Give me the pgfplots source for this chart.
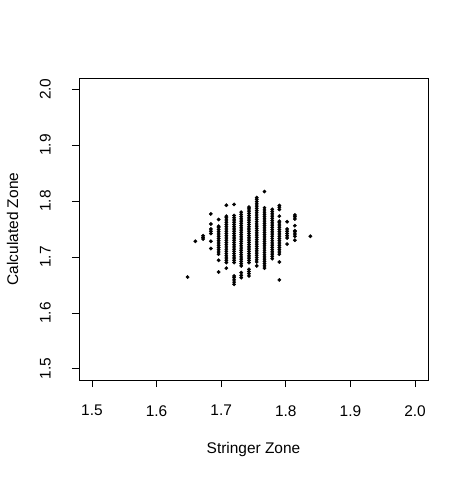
\documentclass[border=0pt]{standalone}
\usepackage{pgfplots}
\pgfplotsset{compat=1.18}
\usepackage{fontspec}
\setmainfont{Liberation Sans}
\begin{document}
\fontsize{15.5}{18}\selectfont
\begin{tikzpicture}
\path[use as bounding box] (0,0) rectangle (468bp,479bp);
\begin{axis}[
  at={(79bp,99bp)}, anchor=south west,
  scale only axis, width=349bp, height=302bp,
  xmin=1.48, xmax=2.02, ymin=1.48, ymax=2.02,
  xtick={1.5,1.6,1.7,1.8,1.9,2.0},
  ytick={1.5,1.6,1.7,1.8,1.9,2.0},
  xtick pos=left, ytick pos=left,
  tick align=outside, major tick length=7bp,
  every tick/.style={black, line width=0.7bp},
  axis line style={line width=0.7bp},
  /pgf/number format/assume math mode=true,
  /pgf/number format/fixed, /pgf/number format/fixed zerofill,
  /pgf/number format/precision=1,
  ticklabel style={font=\fontsize{15.5}{18}\selectfont},
  xticklabel shift=13bp,
  yticklabel shift=16bp,
  yticklabel style={rotate=90, anchor=south},
  xlabel={Stringer Zone}, ylabel={Calculated Zone},
  label style={font=\fontsize{15.5}{18}\selectfont},
  xlabel style={at={(axis description cs:0.5,-0.2285)}, anchor=center},
  ylabel style={at={(axis description cs:-0.19,0.5)}, anchor=center},
]
\addplot[only marks, mark=*, mark size=1.7bp, black] coordinates {
(1.648,1.664)
(1.660,1.728)
(1.672,1.732) (1.672,1.735) (1.672,1.738)
(1.684,1.777) (1.684,1.759) (1.684,1.750) (1.684,1.746) (1.684,1.742) (1.684,1.728) (1.684,1.715)
(1.696,1.767) (1.696,1.705) (1.696,1.709) (1.696,1.713) (1.696,1.717) (1.696,1.721) (1.696,1.725) (1.696,1.729) (1.696,1.733) (1.696,1.737) (1.696,1.741) (1.696,1.745) (1.696,1.749) (1.696,1.753) (1.696,1.755) (1.696,1.694) (1.696,1.673)
(1.708,1.7925) (1.708,1.690) (1.708,1.694) (1.708,1.698) (1.708,1.702) (1.708,1.706) (1.708,1.710) (1.708,1.714) (1.708,1.718) (1.708,1.722) (1.708,1.726) (1.708,1.730) (1.708,1.734) (1.708,1.738) (1.708,1.742) (1.708,1.746) (1.708,1.750) (1.708,1.754) (1.708,1.758) (1.708,1.762) (1.708,1.766) (1.708,1.770) (1.708,1.773) (1.708,1.680)
(1.720,1.794) (1.720,1.690) (1.720,1.694) (1.720,1.698) (1.720,1.702) (1.720,1.706) (1.720,1.710) (1.720,1.714) (1.720,1.718) (1.720,1.722) (1.720,1.726) (1.720,1.730) (1.720,1.734) (1.720,1.738) (1.720,1.742) (1.720,1.746) (1.720,1.750) (1.720,1.754) (1.720,1.758) (1.720,1.762) (1.720,1.766) (1.720,1.770) (1.720,1.774) (1.720,1.651) (1.720,1.655) (1.720,1.659) (1.720,1.663) (1.720,1.666)
(1.731,1.684) (1.731,1.688) (1.731,1.692) (1.731,1.696) (1.731,1.700) (1.731,1.704) (1.731,1.708) (1.731,1.712) (1.731,1.716) (1.731,1.720) (1.731,1.724) (1.731,1.728) (1.731,1.732) (1.731,1.736) (1.731,1.740) (1.731,1.744) (1.731,1.748) (1.731,1.752) (1.731,1.756) (1.731,1.760) (1.731,1.764) (1.731,1.768) (1.731,1.772) (1.731,1.776) (1.731,1.780) (1.731,1.663) (1.731,1.667) (1.731,1.672)
(1.743,1.690) (1.743,1.694) (1.743,1.698) (1.743,1.702) (1.743,1.706) (1.743,1.710) (1.743,1.714) (1.743,1.718) (1.743,1.722) (1.743,1.726) (1.743,1.730) (1.743,1.734) (1.743,1.738) (1.743,1.742) (1.743,1.746) (1.743,1.750) (1.743,1.754) (1.743,1.758) (1.743,1.762) (1.743,1.766) (1.743,1.770) (1.743,1.774) (1.743,1.778) (1.743,1.782) (1.743,1.786) (1.743,1.789) (1.743,1.666) (1.743,1.670) (1.743,1.674) (1.743,1.678)
(1.755,1.691) (1.755,1.695) (1.755,1.699) (1.755,1.703) (1.755,1.707) (1.755,1.711) (1.755,1.715) (1.755,1.719) (1.755,1.723) (1.755,1.727) (1.755,1.731) (1.755,1.735) (1.755,1.739) (1.755,1.743) (1.755,1.747) (1.755,1.751) (1.755,1.755) (1.755,1.759) (1.755,1.763) (1.755,1.767) (1.755,1.771) (1.755,1.775) (1.755,1.779) (1.755,1.783) (1.755,1.787) (1.755,1.791) (1.755,1.795) (1.755,1.799) (1.755,1.803) (1.755,1.806) (1.755,1.684)
(1.767,1.817) (1.767,1.680) (1.767,1.684) (1.767,1.688) (1.767,1.692) (1.767,1.696) (1.767,1.700) (1.767,1.704) (1.767,1.708) (1.767,1.712) (1.767,1.716) (1.767,1.720) (1.767,1.724) (1.767,1.728) (1.767,1.732) (1.767,1.736) (1.767,1.740) (1.767,1.744) (1.767,1.748) (1.767,1.752) (1.767,1.756) (1.767,1.760) (1.767,1.764) (1.767,1.768) (1.767,1.772) (1.767,1.776) (1.767,1.780) (1.767,1.784) (1.767,1.788)
(1.779,1.697) (1.779,1.701) (1.779,1.705) (1.779,1.709) (1.779,1.713) (1.779,1.717) (1.779,1.721) (1.779,1.725) (1.779,1.729) (1.779,1.733) (1.779,1.737) (1.779,1.741) (1.779,1.745) (1.779,1.749) (1.779,1.753) (1.779,1.757) (1.779,1.761) (1.779,1.765) (1.779,1.769) (1.779,1.773) (1.779,1.777) (1.779,1.781) (1.779,1.785)
(1.790,1.785) (1.790,1.789) (1.790,1.792) (1.790,1.773) (1.790,1.705) (1.790,1.709) (1.790,1.713) (1.790,1.717) (1.790,1.721) (1.790,1.725) (1.790,1.729) (1.790,1.733) (1.790,1.737) (1.790,1.741) (1.790,1.745) (1.790,1.749) (1.790,1.753) (1.790,1.757) (1.790,1.761) (1.790,1.764) (1.790,1.691) (1.790,1.659)
(1.802,1.763) (1.802,1.734) (1.802,1.738) (1.802,1.742) (1.802,1.746) (1.802,1.750) (1.802,1.723)
(1.814,1.768) (1.814,1.772) (1.814,1.775) (1.814,1.756) (1.814,1.737) (1.814,1.741) (1.814,1.745) (1.814,1.747) (1.814,1.730)
(1.838,1.737)
};
\end{axis}
\end{tikzpicture}
\end{document}
